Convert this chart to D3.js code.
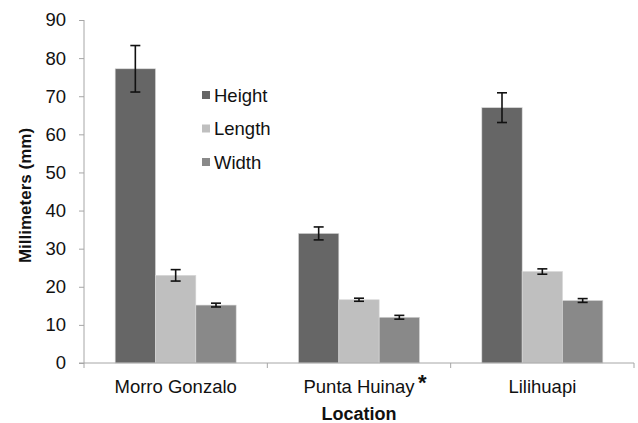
<!DOCTYPE html>
<html>
<head>
<meta charset="utf-8">
<script src="https://cdn.jsdelivr.net/npm/d3@7"></script>
<style>
body{margin:0;background:#fff;}
svg text{font-family:"Liberation Sans",Arial,sans-serif;fill:#111;}
</style>
</head>
<body>
<div id="chart"></div>
<script>
var w=638;
var h=423;

// data
var locations=["Morro Gonzalo","Punta Huinay","Lilihuapi"];
var series=["Height","Length","Width"];
var heightVals=[77.2,34.0,67.0];
var heightErr=[6.1,1.7,3.9];
var lengthVals=[23.0,16.6,24.0];
var lengthErr=[1.5,0.4,0.7];
var widthVals=[15.2,12.0,16.4];
var widthErr=[0.5,0.5,0.5];
var yTicks=[0,10,20,30,40,50,60,70,80,90];
var colors=["#666666","#bfbfbf","#898989"];

var values=[heightVals,lengthVals,widthVals];
var errs=[heightErr,lengthErr,widthErr];

var mLeft=84,mRight=634,mTop=20,mBottom=363;

var svg=d3.select("#chart").append("svg")
          .attr("width",w)
          .attr("height",h);

var x=d3.scaleBand().domain(locations).range([mLeft,mRight]).padding(0);
var step=x.bandwidth();
var xs=d3.scaleBand().domain(series).range([step*0.17,step*0.83]).padding(0);
var y=d3.scaleLinear().domain([0,90]).range([mBottom,mTop]);

// flatten for drawing
var bars=[];
locations.forEach(function(loc,i){
  series.forEach(function(s,j){
    bars.push({loc:loc,s:s,v:values[j][i],e:errs[j][i],c:colors[j]});
  });
});

var g=svg.append("g");
g.selectAll("rect")
  .data(bars)
  .enter().append("rect")
    .attr("x",function(d){return x(d.loc)+xs(d.s);})
    .attr("width",xs.bandwidth())
    .attr("y",function(d){return y(d.v);})
    .attr("height",function(d){return y(0)-y(d.v);})
    .attr("fill",function(d){return d.c;})
    .attr("stroke","#d8d8d8")
    .attr("stroke-width",0.6);

// error bars
var eb=svg.append("g").attr("stroke","#111").attr("stroke-width",1.6);
bars.forEach(function(d){
  var cx=x(d.loc)+xs(d.s)+xs.bandwidth()/2;
  eb.append("line").attr("x1",cx).attr("x2",cx).attr("y1",y(d.v+d.e)).attr("y2",y(d.v-d.e));
  eb.append("line").attr("x1",cx-5).attr("x2",cx+5).attr("y1",y(d.v+d.e)).attr("y2",y(d.v+d.e));
  eb.append("line").attr("x1",cx-5).attr("x2",cx+5).attr("y1",y(d.v-d.e)).attr("y2",y(d.v-d.e));
});

// y axis
var yAxis=svg.append("g")
  .attr("transform","translate("+mLeft+",0)")
  .call(d3.axisLeft(y).tickValues(yTicks).tickSize(5).tickPadding(13));
yAxis.selectAll("text").style("font-size","18.5px").attr("fill","#111");
yAxis.selectAll("line,path").attr("stroke","#a6a6a6");
yAxis.select(".domain").attr("d","M0,"+mBottom+"V"+mTop);

// x axis: labels centered in bands, ticks at band edges
var xAxis=svg.append("g")
  .attr("transform","translate(0,"+mBottom+")")
  .call(d3.axisBottom(x).tickSize(0).tickPadding(17));
xAxis.select(".domain").attr("stroke","#a6a6a6").attr("d","M"+(mLeft-5)+",0H"+mRight);
xAxis.selectAll("text").style("font-size","18.5px").attr("fill","#111");
var edges=locations.map(function(l){return x(l);}).concat([mRight]);
xAxis.selectAll(".edge")
  .data(edges)
  .enter().append("line")
    .attr("class","edge")
    .attr("x1",function(d){return d;})
    .attr("x2",function(d){return d;})
    .attr("y1",0).attr("y2",5)
    .attr("stroke","#a6a6a6");

// asterisk after Punta Huinay
xAxis.selectAll(".tick").filter(function(d){return d==="Punta Huinay";})
  .each(function(){
    var t=d3.select(this).select("text");
    var bw=t.node().getBBox().width;
    d3.select(this).append("text")
      .attr("x",bw/2+3)
      .attr("y",27)
      .attr("text-anchor","start")
      .style("font-size","22px")
      .style("font-weight","bold")
      .attr("fill","#111")
      .text("*");
  });

// axis titles
svg.append("text")
  .attr("transform","translate(31,"+((mTop+mBottom)/2+4)+") rotate(-90)")
  .attr("text-anchor","middle")
  .style("font-size","17px")
  .style("font-weight","bold")
  .text("Millimeters (mm)");

svg.append("text")
  .attr("x",(mLeft+mRight)/2)
  .attr("y",420)
  .attr("text-anchor","middle")
  .style("font-size","18px")
  .style("font-weight","bold")
  .text("Location");

// legend
var legend=svg.append("g")
  .selectAll("g")
  .data(series)
  .enter().append("g")
    .attr("transform",function(d,i){return "translate(202,"+(95+i*33.5)+")";});
legend.append("rect")
  .attr("x",0).attr("y",-4)
  .attr("width",8).attr("height",8)
  .attr("fill",function(d,i){return colors[i];});
legend.append("text")
  .attr("x",12)
  .attr("y",6.5)
  .style("font-size","18.5px")
  .text(function(d){return d;});
</script>
</body>
</html>
